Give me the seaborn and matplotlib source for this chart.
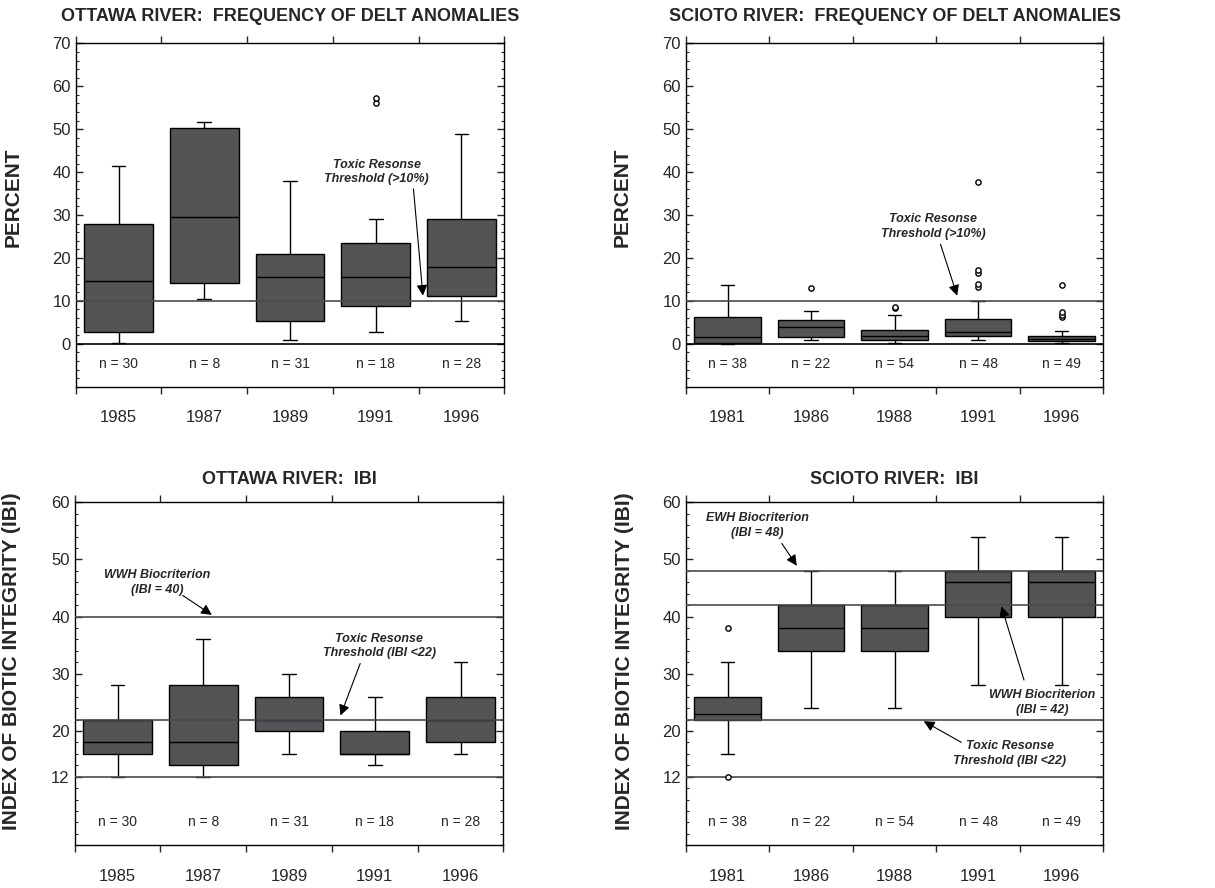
import numpy as np
import pandas as pd
import seaborn as sns
from matplotlib import pyplot as plt
from matplotlib.ticker import MultipleLocator

# Ottawa River, DELT anomalies (%)
ottawa_years = ["1985", "1987", "1989", "1991", "1996"]
ottawa_n = [30, 8, 31, 18, 28]
ottawa_delt_low = [0.3, 10.4, 1.0, 2.7, 5.4]
ottawa_delt_q1 = [2.8, 14.2, 5.3, 8.7, 11.1]
ottawa_delt_med = [14.7, 29.6, 15.6, 15.6, 18.0]
ottawa_delt_q3 = [27.8, 50.3, 20.9, 23.6, 29.0]
ottawa_delt_high = [41.5, 51.7, 38.0, 29.1, 48.8]
ottawa_delt_flier_years = ["1991", "1991"]
ottawa_delt_flier_values = [56.1, 57.2]

# Scioto River, DELT anomalies (%)
scioto_years = ["1981", "1986", "1988", "1991", "1996"]
scioto_n = [38, 22, 54, 48, 49]
scioto_delt_low = [0.0, 0.9, 0.3, 0.85, 0.2]
scioto_delt_q1 = [0.2, 1.6, 0.85, 1.9, 0.6]
scioto_delt_med = [1.5, 3.9, 1.8, 2.7, 1.2]
scioto_delt_q3 = [6.3, 5.6, 3.3, 5.8, 1.9]
scioto_delt_high = [13.7, 7.7, 6.6, 9.9, 2.9]
scioto_delt_flier_years = ["1986", "1988", "1988", "1991", "1991", "1991",
                           "1991", "1991", "1996", "1996", "1996", "1996"]
scioto_delt_flier_values = [12.9, 8.3, 8.6, 13.3, 13.9, 16.4,
                            17.2, 37.7, 6.2, 6.8, 7.5, 13.7]

# Ottawa River, IBI
ottawa_ibi_low = [12, 12, 16, 14, 16]
ottawa_ibi_q1 = [16, 14, 20, 16, 18]
ottawa_ibi_med = [18, 18, 22, 16, 22]
ottawa_ibi_q3 = [22, 28, 26, 20, 26]
ottawa_ibi_high = [28, 36, 30, 26, 32]

# Scioto River, IBI
scioto_ibi_low = [16, 24, 24, 28, 28]
scioto_ibi_q1 = [22, 34, 34, 40, 40]
scioto_ibi_med = [23, 38, 38, 46, 46]
scioto_ibi_q3 = [26, 42, 42, 48, 48]
scioto_ibi_high = [32, 48, 48, 54, 54]
scioto_ibi_flier_years = ["1981", "1981"]
scioto_ibi_flier_values = [12, 38]

BOX_COLOR = "#545456"
LINE_COLOR = "#4a4a4a"

sns.set_style("ticks")
plt.rcParams["font.family"] = ["Liberation Sans", "DejaVu Sans"]


def draw_panel(ax, years, low, q1, med, q3, high, n, ny, fy=None, fv=None):
    # five-number summary per year -> boxes with whiskers at min/max
    rows = []
    for i, y in enumerate(years):
        for v in (low[i], q1[i], med[i], q3[i], high[i]):
            rows.append((y, v))
    df = pd.DataFrame(rows, columns=["Year", "Value"])
    sns.boxplot(data=df, x="Year", y="Value", order=years, whis=(0, 100),
                width=0.8, color=BOX_COLOR, saturation=1, linecolor="black",
                linewidth=1.0, showfliers=False, capwidths=0.16, ax=ax)
    if fy:
        df_f = pd.DataFrame({"Year": fy, "Value": fv})
        sns.stripplot(data=df_f, x="Year", y="Value", order=years, jitter=False,
                      color="white", edgecolor="black", linewidth=1.0, size=3.8,
                      ax=ax, zorder=4)
    for i, k in enumerate(n):
        ax.text(i, ny, "n = %d" % k, ha="center", va="center", fontsize=10)
    ax.set_xlim(-0.5, len(years) - 0.5)
    ax.set_xticks(np.arange(-0.5, len(years), 1.0))
    ax.set_xticklabels([""] * (len(years) + 1))
    ax.set_xticks(np.arange(len(years)), minor=True)
    ax.set_xticklabels(years, minor=True)
    ax.tick_params(axis="x", which="major", direction="out", length=5,
                   top=True, bottom=True, width=1)
    ax.tick_params(axis="x", which="minor", length=0, pad=17, labelsize=12)
    ax.tick_params(axis="y", which="major", direction="in", length=5,
                   left=True, right=True, labelsize=12, width=1)
    ax.tick_params(axis="y", which="minor", direction="in", length=2.5,
                   left=True, right=True, width=0.8)
    ax.set_xlabel("")
    for s in ax.spines.values():
        s.set_visible(True)
        s.set_linewidth(1.0)
        s.set_color("black")


def note(ax, txt, xy_text, tail, head):
    ax.text(*xy_text, txt, ha="center", va="center", fontsize=9,
            fontweight="bold", fontstyle="italic", linespacing=1.3)
    ax.annotate("", xy=head, xytext=tail,
                arrowprops=dict(arrowstyle="-|>", color="black", lw=0.8,
                                mutation_scale=16, shrinkA=0, shrinkB=0))


fig = plt.figure(figsize=(12.15, 8.88), dpi=100)
ax1 = fig.add_axes([0.0623, 0.5645, 0.3528, 0.3867])
ax2 = fig.add_axes([0.5644, 0.5645, 0.3437, 0.3867])
ax3 = fig.add_axes([0.0615, 0.0481, 0.3528, 0.3863])
ax4 = fig.add_axes([0.5644, 0.0481, 0.3437, 0.3863])

draw_panel(ax1, ottawa_years, ottawa_delt_low, ottawa_delt_q1, ottawa_delt_med,
           ottawa_delt_q3, ottawa_delt_high, ottawa_n, -4.6,
           ottawa_delt_flier_years, ottawa_delt_flier_values)
draw_panel(ax2, scioto_years, scioto_delt_low, scioto_delt_q1, scioto_delt_med,
           scioto_delt_q3, scioto_delt_high, scioto_n, -4.6,
           scioto_delt_flier_years, scioto_delt_flier_values)
draw_panel(ax3, ottawa_years, ottawa_ibi_low, ottawa_ibi_q1, ottawa_ibi_med,
           ottawa_ibi_q3, ottawa_ibi_high, ottawa_n, 4.0)
draw_panel(ax4, scioto_years, scioto_ibi_low, scioto_ibi_q1, scioto_ibi_med,
           scioto_ibi_q3, scioto_ibi_high, scioto_n, 4.0,
           scioto_ibi_flier_years, scioto_ibi_flier_values)

for ax in (ax1, ax2):
    ax.set_ylim(-10, 70)
    ax.set_yticks(np.arange(0, 71, 10))
    ax.yaxis.set_minor_locator(MultipleLocator(2))
    ax.axhline(0, color="black", lw=1.2, zorder=3)
    ax.axhline(10, color=LINE_COLOR, lw=1.2, zorder=3)
    ax.set_ylabel("PERCENT", fontsize=15, fontweight="bold")
ax1.yaxis.set_label_coords(-0.124, 0.553)
ax2.yaxis.set_label_coords(-0.129, 0.553)

for ax in (ax3, ax4):
    ax.set_ylim(0, 60)
    ax.set_yticks([12, 20, 30, 40, 50, 60])
    ax.yaxis.set_minor_locator(MultipleLocator(2))
    ax.axhline(12, color=LINE_COLOR, lw=1.2, zorder=3)
    ax.axhline(22, color=LINE_COLOR, lw=1.2, zorder=3)
    ax.set_ylabel("INDEX OF BIOTIC INTEGRITY (IBI)", fontsize=15, fontweight="bold")
ax3.axhline(40, color=LINE_COLOR, lw=1.2, zorder=3)
ax4.axhline(48, color=LINE_COLOR, lw=1.2, zorder=3)
ax4.axhline(42, color=LINE_COLOR, lw=1.2, zorder=3)
ax3.yaxis.set_label_coords(-0.125, 0.537)
ax4.yaxis.set_label_coords(-0.124, 0.537)

ax1.set_title("OTTAWA RIVER:  FREQUENCY OF DELT ANOMALIES", fontsize=13,
              fontweight="bold", pad=16)
ax2.set_title("SCIOTO RIVER:  FREQUENCY OF DELT ANOMALIES", fontsize=13,
              fontweight="bold", pad=16)
ax3.set_title("OTTAWA RIVER:  IBI", fontsize=13, fontweight="bold", pad=13)
ax4.set_title("SCIOTO RIVER:  IBI", fontsize=13, fontweight="bold", pad=13)

note(ax1, "Toxic Resonse\nThreshold (>10%)", (3.01, 40.0), (3.44, 36.1), (3.55, 11.2))
note(ax2, "Toxic Resonse\nThreshold (>10%)", (2.46, 27.4), (2.55, 23.2), (2.75, 11.2))
note(ax3, "WWH Biocriterion\n(IBI = 40)", (0.46, 46.0), (0.76, 43.7), (1.10, 40.3))
note(ax3, "Toxic Resonse\nThreshold (IBI <22)", (3.05, 34.85), (2.83, 31.8), (2.60, 22.7))
note(ax4, "EWH Biocriterion\n(IBI = 48)", (0.36, 55.95), (0.65, 52.8), (0.83, 48.9))
note(ax4, "WWH Biocriterion\n(IBI = 42)", (3.77, 25.0), (3.55, 28.9), (3.28, 41.8))
note(ax4, "Toxic Resonse\nThreshold (IBI <22)", (3.38, 16.0), (2.80, 18.0), (2.35, 21.7))

plt.savefig("out.png", dpi=100)
